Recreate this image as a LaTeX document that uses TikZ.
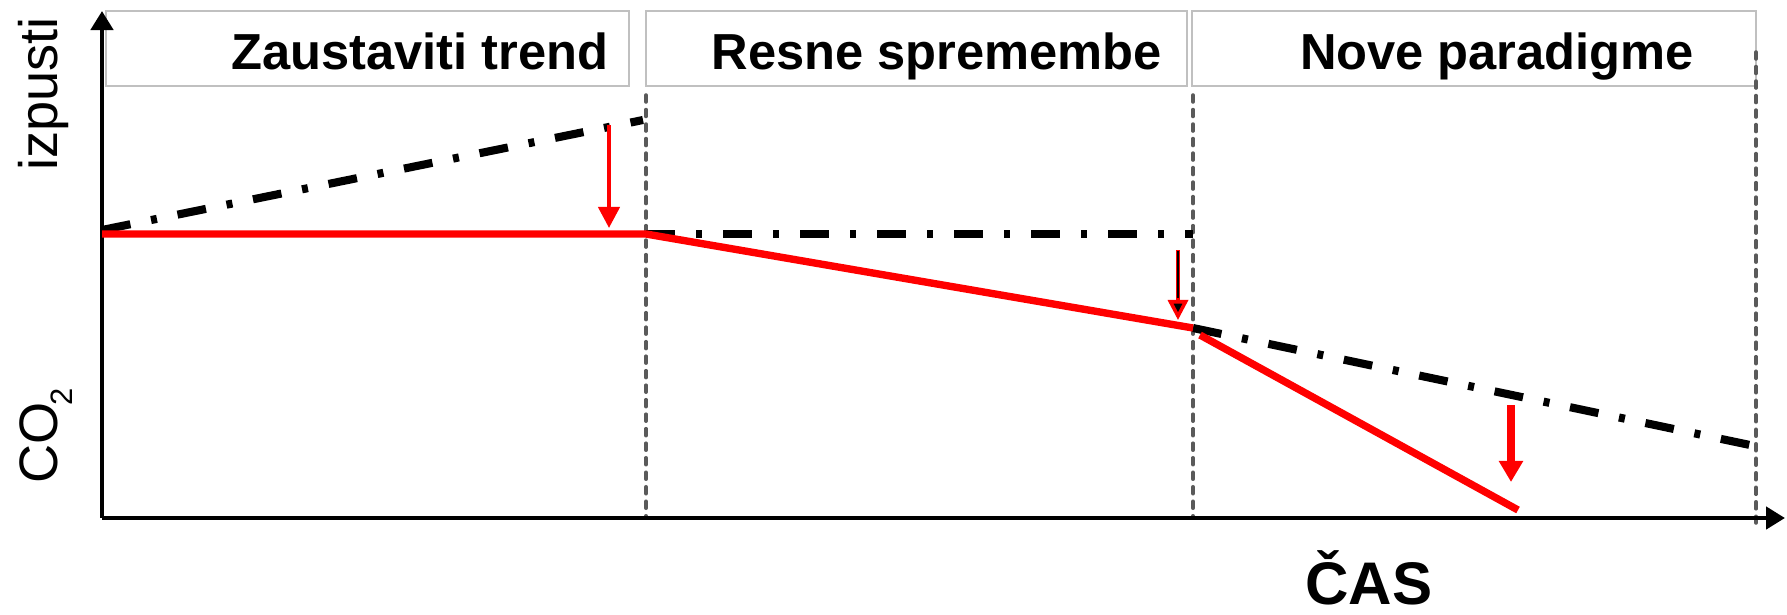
\documentclass[tikz,border=0pt]{standalone}
\usepackage{fontspec}
\setmainfont{Liberation Sans}
\usetikzlibrary{arrows.meta}
\definecolor{phasegray}{HTML}{5A5A5A}
\definecolor{boxgray}{HTML}{C0C0C0}

\begin{document}
\begin{tikzpicture}[x=0.01cm, y=0.01cm, >={Triangle[length=0.19cm,width=0.22cm]},
    axis/.style={line width=1.3pt, ->},
    hdr/.style={draw=boxgray, line width=0.6pt},
    phase/.style={draw=phasegray, line width=1pt, dash pattern=on 0.07cm off 0.075cm, line cap=round},
    bau/.style={line width=2.3pt, dash pattern=on 0.29cm off 0.21cm on 0.06cm off 0.21cm},
    cut/.style={red, line width=2.1pt},
    drop/.style={red, -{Triangle[length=0.21cm,width=0.21cm]}},
    every node/.style={font=\fontsize{14.4}{17}\selectfont\bfseries, inner sep=0pt}]
  \useasboundingbox (0,0) rectangle (1787,614);
  % header boxes
  \draw[hdr] (106,528) rectangle (629,603);
  \draw[hdr] (646,528) rectangle (1187,603);
  \draw[hdr] (1192,528) rectangle (1756,603);
  % phase borders
  \draw[phase] (646,519) -- (646,96);
  \draw[phase] (1193,519) -- (1193,96);
  \draw[phase] (1756,562) -- (1756,91);
  % axes
  \coordinate (o) at (102,96);
  \draw[axis] (o) -- (102,603);
  \draw[axis] (o) -- (1785,96);
  % points of the emission path
  \coordinate (s0) at (102,380);
  \coordinate (s1) at (646,380);
  \coordinate (s2) at (1193,286);
  \coordinate (s3) at (1200,279);
  \coordinate (s4) at (1518,104);
  % trends without action
  \draw[bau] (102,384) -- (643,494);
  \draw[bau] (s1) -- (1193,380);
  \draw[bau] (s2) -- (1750,169);
  % reduced emissions
  \draw[cut] (s0) -- (s1) -- (s2);
  \draw[cut] (s3) -- (s4);
  % reductions
  \draw[drop, line width=1.2pt] (609,489) -- (609,386);
  \draw[drop, line width=1pt, -{Triangle[length=0.2cm,width=0.2cm,fill=black]}] (1178,364) -- (1178,294);
  \draw[line width=0.35pt] (1178,363) -- (1178,316);
  \draw[drop, line width=2pt, -{Triangle[length=0.21cm,width=0.23cm]}] (1511,209) -- (1511,132);
  % labels
  \node[anchor=base east] (zt) at (609,545) {Zaustaviti trend};
  \node[anchor=base] (rs) at (937,545) {Resne spremembe};
  \node[anchor=base] (np) at (1497,545) {Nove paradigme};
  \node[font=\fontsize{15.4}{18}\selectfont, rotate=90, anchor=base] (izp) at (58,520) {izpusti};
  \node[font=\fontsize{15.4}{18}\selectfont, rotate=90, anchor=base] (co) at (58,178)
    {CO\kern-1pt\raisebox{-4pt}{\fontsize{8.8}{10}\selectfont 2}};
  \node[font=\fontsize{17.1}{20}\selectfont\bfseries, anchor=base] (cas) at (1369,10) {ČAS};
\end{tikzpicture}
\end{document}
